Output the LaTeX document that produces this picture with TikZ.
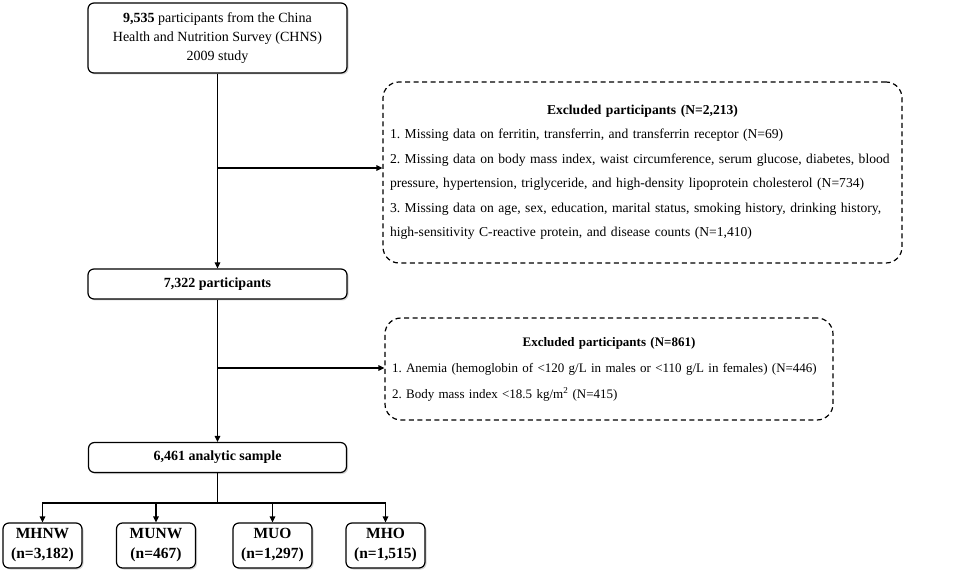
\documentclass[tikz,border=0pt]{standalone}
\usepackage{fontspec}
\setmainfont{Liberation Serif}
\usepackage{tikz}
\usetikzlibrary{arrows.meta}
\usetikzlibrary{shadows}
\frenchspacing
\tikzstyle{BoxMain}=[draw=black,line width=1.2pt,rounded corners=6pt,fill=white,
drop shadow={shadow xshift=1.5pt,shadow yshift=-1.5pt,opacity=.35},
align=center,inner sep=2pt,font=\fontsize{14}{19}\selectfont]
\tikzstyle{BoxGroup}=[BoxMain,minimum width=79pt,minimum height=45pt,
font=\fontsize{15.5}{20}\selectfont\bfseries]
\tikzstyle{BoxExcl}=[draw=black,line width=1.2pt,dash pattern=on 5pt off 3.5pt,
rounded corners=16pt,align=left,inner sep=0pt,font=\fontsize{13.6}{24.5}\selectfont]
\tikzstyle{ArrowFlow}=[line width=1.2pt,-{Triangle[length=6pt,width=5.5pt]}]
\tikzstyle{LineFlow}=[line width=1.2pt]

\begin{document}
\begin{tikzpicture}[x=1pt,y=-1pt]
        \useasboundingbox(0,0)rectangle(970,580);
        \node[BoxMain,minimum width=259pt,minimum height=70pt](Start)at(217.5,38)
            {\textbf{9,535} participants from the China\\Health and Nutrition Survey (CHNS)\\2009 study};
        \node[BoxMain,minimum width=259pt,minimum height=30pt,font=\fontsize{14}{19}\selectfont\bfseries](Kept)at(217.5,284)
            {7,322 participants};
        \node[BoxMain,minimum width=258pt,minimum height=30pt,font=\fontsize{14}{19}\selectfont\bfseries](Sample)at(217.5,457.5)
            {6,461 analytic sample};
        \node[BoxExcl,minimum width=519pt,minimum height=181pt,text width=505pt](ExclA)at(642.5,172.5)
            {\centerline{\textbf{Excluded participants (N=2,213)}}
            1. Missing data on ferritin, transferrin, and transferrin receptor (N=69)\\
            2. Missing data on body mass index, waist circumference, serum glucose, diabetes, blood\\
            pressure, hypertension, triglyceride, and high-density lipoprotein cholesterol (N=734)\\
            3. Missing data on age, sex, education, marital status, smoking history, drinking history,\\
            high-sensitivity C-reactive protein, and disease counts (N=1,410)};
        \node[BoxExcl,minimum width=448pt,minimum height=102pt,text width=434pt,font=\fontsize{13}{26}\selectfont](ExclB)at(609,369)
            {\centerline{\textbf{Excluded participants (N=861)}}
            1. Anemia (hemoglobin of <120 g/L in males or <110 g/L in females) (N=446)\\
            2. Body mass index <18.5 kg/m\textsuperscript{2} (N=415)};
        \node[BoxGroup](MHNW)at(42.5,545.5){MHNW\\(n=3,182)};
        \node[BoxGroup](MUNW)at(156,545.5){MUNW\\(n=467)};
        \node[BoxGroup](MUO)at(272.5,545.5){MUO\\(n=1,297)};
        \node[BoxGroup](MHO)at(385.5,545.5){MHO\\(n=1,515)};
        \coordinate(SplitA)at(217.5,168);
        \coordinate(SplitB)at(217.5,368);
        \coordinate(SplitC)at(217.5,503);
        \draw[ArrowFlow](Start)--(Kept);
        \draw[ArrowFlow](Kept)--(Sample);
        \draw[ArrowFlow](SplitA)--(SplitA-|ExclA.west);
        \draw[ArrowFlow](SplitB)--(SplitB-|ExclB.west);
        \draw[LineFlow](Sample.south)--(SplitC);
        \draw[ArrowFlow](SplitC)-|(MHNW.north);
        \draw[ArrowFlow](SplitC)-|(MUNW.north);
        \draw[ArrowFlow](SplitC)-|(MUO.north);
        \draw[ArrowFlow](SplitC)-|(MHO.north);
    \end{tikzpicture}
\end{document}
